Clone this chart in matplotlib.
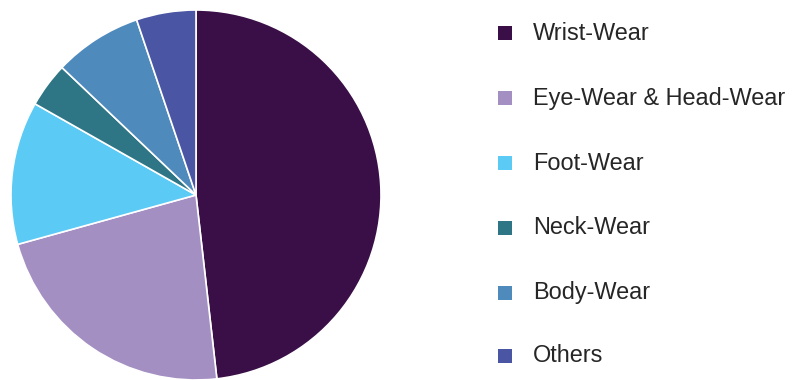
import matplotlib.pyplot as plt
from matplotlib.patches import Rectangle

plt.rcParams['font.family'] = ['Liberation Sans', 'DejaVu Sans']

segments = ['Wrist-Wear', 'Eye-Wear & Head-Wear', 'Foot-Wear', 'Neck-Wear', 'Body-Wear', 'Others']
shares = [48.2, 22.5, 12.5, 3.9, 7.7, 5.2]
colors = ['#3a0f47', '#a48fc3', '#5bcaf4', '#2e7585', '#4f8abc', '#4a56a3']

W, H = 792, 380
fig = plt.figure(figsize=(W / 100, H / 100), dpi=100)

# pie centred at (196, 195) px from top-left, radius 185 px
cx, cy, r = 196, 195, 185
ax = fig.add_axes([(cx - r) / W, (H - cy - r) / H, 2 * r / W, 2 * r / H])
ax.pie(shares, colors=colors, startangle=90, counterclock=False,
       wedgeprops=dict(edgecolor='white', linewidth=1.2))
ax.set_xlim(-1, 1)
ax.set_ylim(-1, 1)
ax.set_aspect('auto')
ax.axis('off')

# legend on the right
row_y = [33, 98, 163, 228, 293, 356]
sq = 14
for name, col, y in zip(segments, colors, row_y):
    fig.add_artist(Rectangle(((505 - sq / 2) / W, (H - y - sq / 2) / H), sq / W, sq / H,
                             transform=fig.transFigure, facecolor=col, edgecolor='none'))
    fig.text(533 / W, (H - y) / H, name, fontsize=16.9, color='#262626',
             va='center', ha='left')

fig.savefig('out.png', dpi=100)
